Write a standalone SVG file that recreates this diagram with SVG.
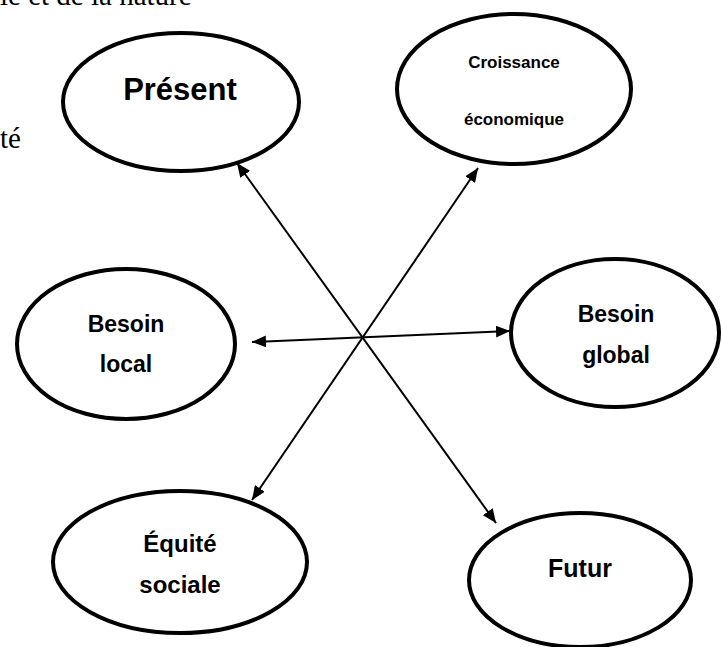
<svg xmlns="http://www.w3.org/2000/svg" width="722" height="647" viewBox="0 0 722 647">
<defs>
<style>
.node ellipse{fill:#fff;stroke:#000;stroke-width:4}
.lbl{font-family:"Liberation Sans",Arial,sans-serif;font-weight:bold;text-anchor:middle;fill:#000}
.bg{font-family:"Liberation Serif","Times New Roman",serif;fill:#000}
.conn line{stroke:#000;stroke-width:2;fill:none}
</style>
<marker id="ah" viewBox="0 0 14 12" refX="14" refY="6" markerWidth="14" markerHeight="12" markerUnits="userSpaceOnUse" orient="auto-start-reverse">
<path d="M0,0 L14,6 L0,12 z" fill="#000"/>
</marker>
</defs>
<rect width="722" height="647" fill="#fff"/>
<text class="bg" x="0" y="5" font-size="29">le et de la nature</text>
<text class="bg" x="0" y="148" font-size="29">té</text>
<g class="conn">
<line x1="237" y1="163" x2="496" y2="523" marker-start="url(#ah)" marker-end="url(#ah)"/>
<line x1="478" y1="168" x2="252" y2="500" marker-start="url(#ah)" marker-end="url(#ah)"/>
<line x1="252" y1="342" x2="510" y2="331" marker-start="url(#ah)" marker-end="url(#ah)"/>
</g>
<g id="present" class="node">
<ellipse cx="181" cy="102" rx="118" ry="69"/>
<text class="lbl" x="180" y="100" font-size="31">Présent</text>
</g>
<g id="croissance" class="node">
<ellipse cx="514" cy="89" rx="117" ry="75"/>
<text class="lbl" x="514" y="68" font-size="17">Croissance</text>
<text class="lbl" x="514" y="125" font-size="17">économique</text>
</g>
<g id="besoin-local" class="node">
<ellipse cx="126" cy="344" rx="109" ry="75"/>
<text class="lbl" x="126" y="332" font-size="23">Besoin</text>
<text class="lbl" x="126" y="372" font-size="23">local</text>
</g>
<g id="besoin-global" class="node">
<ellipse cx="615" cy="333" rx="104" ry="74"/>
<text class="lbl" x="616" y="322" font-size="23">Besoin</text>
<text class="lbl" x="616" y="363" font-size="23">global</text>
</g>
<g id="equite" class="node">
<ellipse cx="180" cy="562" rx="127" ry="71"/>
<text class="lbl" x="180" y="552" font-size="24">Équité</text>
<text class="lbl" x="180" y="593" font-size="24">sociale</text>
</g>
<g id="futur" class="node">
<ellipse cx="580" cy="580" rx="111" ry="67"/>
<text class="lbl" x="580" y="577" font-size="25">Futur</text>
</g>
</svg>
